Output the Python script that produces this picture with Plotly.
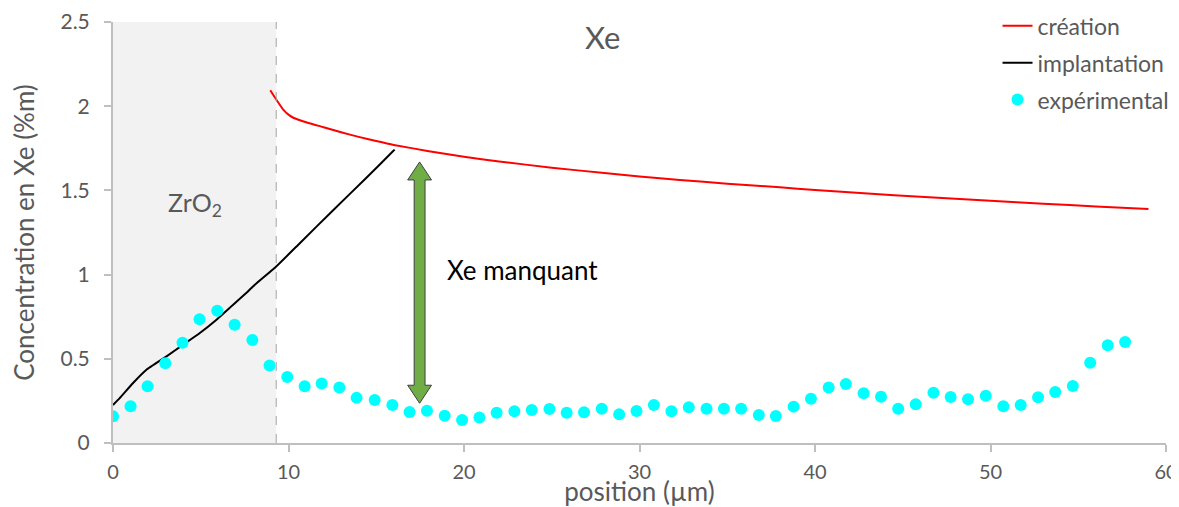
"""
Xe concentration profile: creation vs implantation vs experimental
"""

import plotly.graph_objects as go

# --- data ---
exp_x = [0.0, 1.0, 1.97, 2.98, 3.96, 4.93, 5.94, 6.93, 7.94, 8.92,
         9.93, 10.92, 11.89, 12.9, 13.88, 14.91, 15.92, 16.9, 17.89, 18.9,
         19.89, 20.88, 21.86, 22.87, 23.86, 24.87, 25.85, 26.84, 27.85, 28.84,
         29.83, 30.82, 31.82, 32.81, 33.82, 34.81, 35.79, 36.8, 37.77, 38.78,
         39.77, 40.78, 41.76, 42.77, 43.76, 44.74, 45.74, 46.75, 47.73, 48.72,
         49.73, 50.73, 51.72, 52.71, 53.69, 54.69, 55.68, 56.68, 57.67]
exp_y = [0.159, 0.218, 0.337, 0.474, 0.595, 0.735, 0.785, 0.702, 0.612, 0.46,
         0.392, 0.337, 0.353, 0.329, 0.268, 0.256, 0.225, 0.184, 0.192, 0.162,
         0.137, 0.151, 0.18, 0.188, 0.196, 0.202, 0.18, 0.182, 0.204, 0.17,
         0.19, 0.226, 0.188, 0.212, 0.204, 0.204, 0.204, 0.166, 0.16, 0.216,
         0.263, 0.329, 0.351, 0.296, 0.275, 0.204, 0.23, 0.299, 0.273, 0.26,
         0.281, 0.218, 0.226, 0.272, 0.303, 0.339, 0.477, 0.581, 0.6]

creation_x = [8.96, 9.3, 9.7, 10.0, 10.3, 11, 12, 13, 14, 15, 16, 18, 20, 22,
              25, 28, 30, 32.3, 35, 38, 40, 43, 46, 50, 53, 56, 59]
creation_y = [2.095, 2.04, 1.98, 1.95, 1.93, 1.905, 1.875, 1.845, 1.818, 1.793,
              1.77, 1.733, 1.70, 1.672, 1.635, 1.603, 1.583, 1.562, 1.54, 1.518,
              1.503, 1.482, 1.462, 1.438, 1.421, 1.405, 1.39]

implant_x = [0.0, 0.37, 1.13, 1.89, 3.03, 3.98, 4.93, 5.88, 6.83, 7.59, 7.97,
             9.3, 10.63, 12.53, 14.44, 15.95, 16.05]
implant_y = [0.226, 0.265, 0.355, 0.434, 0.513, 0.583, 0.652, 0.731, 0.82,
             0.89, 0.929, 1.048, 1.185, 1.381, 1.575, 1.732, 1.742]

zro2_edge = 9.3
y_ticks = [0, 0.5, 1, 1.5, 2, 2.5]
y_tick_labels = ['0', '0.5', '1', '1.5', '2', '2.5']
x_ticks = [0, 10, 20, 30, 40, 50, 60]

FONT = 'Lato'
GREY_TXT = '#595959'
AXIS_COL = '#bfbfbf'

fig = go.Figure()

# ZrO2 shaded zone + dashed boundary
fig.add_shape(type='rect', x0=0, x1=zro2_edge, y0=0, y1=2.5,
              fillcolor='#f2f2f2', line=dict(width=0), layer='below')
fig.add_shape(type='line', x0=zro2_edge, x1=zro2_edge, y0=0, y1=2.5,
              line=dict(color='#a6a6a6', width=1, dash='dash'))

fig.add_trace(go.Scatter(
    x=creation_x, y=creation_y, mode='lines', name='création',
    line=dict(color='#ff0000', width=2, shape='spline', smoothing=0.5),
    legendgroup='a'
))
fig.add_trace(go.Scatter(
    x=implant_x, y=implant_y, mode='lines', name='implantation',
    line=dict(color='black', width=2, shape='spline', smoothing=0.3),
    legendgroup='b'
))
fig.add_trace(go.Scatter(
    x=exp_x, y=exp_y, mode='markers', name='expérimental',
    marker=dict(color='#00ffff', size=12),
    legendgroup='c'
))

# green double-headed arrow ("Xe manquant")
ax, top, bot = 17.47, 1.669, 0.236
hs, hh, hl = 0.31, 0.68, 0.107
path = (f'M {ax},{top} L {ax+hh},{top-hl} L {ax+hs},{top-hl} '
        f'L {ax+hs},{bot+hl} L {ax+hh},{bot+hl} L {ax},{bot} '
        f'L {ax-hh},{bot+hl} L {ax-hs},{bot+hl} L {ax-hs},{top-hl} '
        f'L {ax-hh},{top-hl} Z')
fig.add_shape(type='path', path=path, fillcolor='#70ad47',
              line=dict(color='#404040', width=1))

fig.add_annotation(x=18.9, y=1.03, text='Xe manquant', showarrow=False,
                   xanchor='left', yanchor='middle',
                   font=dict(family=FONT, size=26, color='black'))
fig.add_annotation(x=27.9, y=2.41, text='Xe', showarrow=False,
                   font=dict(family=FONT, size=31, color=GREY_TXT))
fig.add_annotation(x=4.65, y=1.42, text='ZrO<sub>2</sub>', showarrow=False,
                   font=dict(family=FONT, size=25, color=GREY_TXT))

# the page body adds an 8px offset, so the figure is drawn 8px smaller
fig.update_layout(
    width=1171, height=499,
    margin=dict(l=105, r=13, t=14, b=64, autoexpand=False),
    plot_bgcolor='white', paper_bgcolor='white',
    font=dict(family=FONT, color=GREY_TXT),
    xaxis=dict(
        range=[0, 60], tickvals=x_ticks, showgrid=False, zeroline=False,
        automargin=False, ticklabeloverflow='allow',
        showline=True, linecolor=AXIS_COL, linewidth=2,
        ticks='outside', ticklen=7, tickcolor=AXIS_COL, tickwidth=2,
        ticklabelstandoff=3,
        tickfont=dict(size=20, color=GREY_TXT),
        title=dict(text='position (µm)', font=dict(size=26, color=GREY_TXT),
                   standoff=13)
    ),
    yaxis=dict(
        range=[0, 2.5], tickvals=y_ticks, ticktext=y_tick_labels,
        showgrid=False, zeroline=False, automargin=False,
        showline=True, linecolor=AXIS_COL, linewidth=2,
        ticks='outside', ticklen=7, tickcolor=AXIS_COL, tickwidth=2,
        ticklabelstandoff=10,
        tickfont=dict(size=21, color=GREY_TXT),
        title=dict(text='Concentration en Xe (%m)',
                   font=dict(size=26, color=GREY_TXT), standoff=24)
    ),
    # inside halves of the crossing tick marks
    xaxis2=dict(range=[0, 60], tickvals=x_ticks, overlaying='x', anchor='y',
                side='bottom', showticklabels=False, showgrid=False,
                automargin=False,
                zeroline=False, showline=False, ticks='inside', ticklen=7,
                tickcolor=AXIS_COL, tickwidth=2),
    yaxis2=dict(range=[0, 2.5], tickvals=y_ticks, overlaying='y', anchor='x',
                side='left', showticklabels=False, showgrid=False,
                automargin=False,
                zeroline=False, showline=False, ticks='inside', ticklen=7,
                tickcolor=AXIS_COL, tickwidth=2),
    showlegend=True,
    legend=dict(x=0.84, y=1.042, xanchor='left', yanchor='top',
                bgcolor='rgba(0,0,0,0)', traceorder='grouped',
                tracegroupgap=4,
                font=dict(family=FONT, size=23, color=GREY_TXT))
)

fig.write_html("out.html")
